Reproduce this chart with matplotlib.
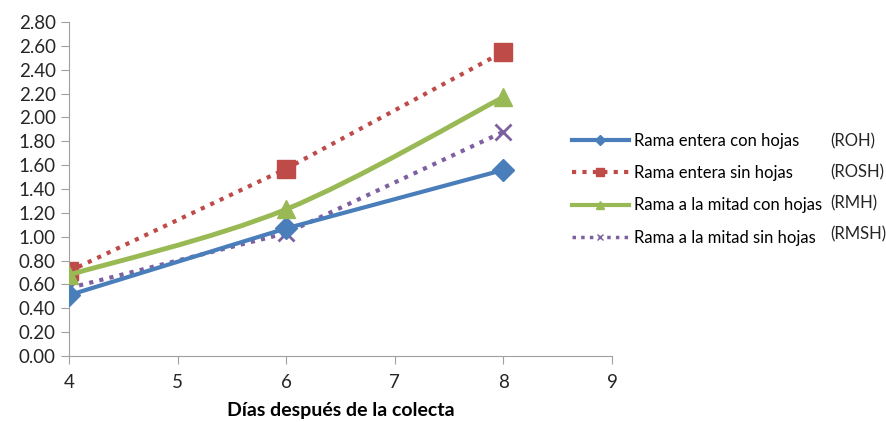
import matplotlib.pyplot as plt
from matplotlib.lines import Line2D
from matplotlib.path import Path
from matplotlib.patches import PathPatch

plt.rcParams['font.family'] = ['Lato', 'DejaVu Sans']

dias = [4, 6, 8]
roh = [0.51, 1.07, 1.56]
rosh = [0.71, 1.57, 2.55]
rmh = [0.68, 1.23, 2.17]
rmsh = [0.57, 1.03, 1.88]

nombres = ['Rama entera con hojas', 'Rama entera sin hojas',
           'Rama a la mitad con hojas', 'Rama a la mitad sin hojas']
siglas = ['(ROH)', '(ROSH)', '(RMH)', '(RMSH)']

azul = '#4A7EBB'
rojo = '#BE4B48'
verde = '#98B954'
morado = '#7D60A0'


def curva_suave(x, y):
    # Catmull-Rom style bezier through the points (like Excel's smoothed line)
    verts = [(x[0], y[0])]
    codes = [Path.MOVETO]
    n = len(x)
    for i in range(n - 1):
        x0, y0 = (x[i - 1], y[i - 1]) if i > 0 else (x[i], y[i])
        x3, y3 = (x[i + 2], y[i + 2]) if i + 2 < n else (x[i + 1], y[i + 1])
        c1 = (x[i] + (x[i + 1] - x0) / 6, y[i] + (y[i + 1] - y0) / 6)
        c2 = (x[i + 1] - (x3 - x[i]) / 6, y[i + 1] - (y3 - y[i]) / 6)
        verts += [c1, c2, (x[i + 1], y[i + 1])]
        codes += [Path.CURVE4] * 3
    return Path(verts, codes)


fig = plt.figure(figsize=(8.87, 4.22), dpi=100)
ax = fig.add_axes([69 / 887, 1 - 356 / 422, (612 - 69) / 887, (356 - 22) / 422])

ax.plot(dias, roh, color=azul, lw=3, marker='D', ms=11, zorder=3)
ax.plot(dias, rosh, color=rojo, lw=3, ls=(0, (1, 1.5)), marker='s', ms=13,
        mec=rojo, zorder=2)
ax.add_patch(PathPatch(curva_suave(dias, rmh), fill=False, ec=verde, lw=3.5,
                       capstyle='round', zorder=2))
ax.plot(dias, rmh, ls='none', marker='^', ms=13, color=verde, zorder=3)
ax.plot(dias, rmsh, color=morado, lw=3, ls=(0, (1, 1.5)), marker='x', ms=11,
        mew=2, zorder=2)

ax.set_xlim(4, 9)
ax.set_ylim(0, 2.8)
ax.set_yticks([i * 0.2 for i in range(15)])
ax.set_yticklabels(['%.2f' % (i * 0.2) for i in range(15)])
ax.set_xticks([4, 5, 6, 7, 8, 9])
ax.spines['top'].set_visible(False)
ax.spines['right'].set_visible(False)
for s in ['left', 'bottom']:
    ax.spines[s].set_color('#A0A0A0')
ax.tick_params(colors='#A0A0A0', labelcolor='#262626', labelsize=13.5, length=6)
ax.tick_params(axis='x', pad=7)
ax.set_xlabel('Días después de la colecta', fontsize=14, fontweight='bold',
              labelpad=8)

handles = [
    Line2D([], [], color=azul, lw=3, marker='D', ms=5),
    Line2D([], [], color=rojo, lw=3, ls=(0, (1, 1.5)), marker='s', ms=6),
    Line2D([], [], color=verde, lw=3, marker='^', ms=6),
    Line2D([], [], color=morado, lw=2.5, ls=(0, (1, 1.5)), marker='x', ms=5),
]
leg = fig.legend(handles, nombres, loc='upper left', bbox_to_anchor=(572 / 887, 1 - 133 / 422),
                 frameon=False, fontsize=12, handlelength=3.4, labelspacing=0.97,
                 handletextpad=0.35, borderaxespad=0, borderpad=0)

for i, s in enumerate(siglas):
    fig.text(830 / 887, 1 - (141 + i * 31) / 422, s, fontsize=12,
             ha='left', va='center', color='#262626')

fig.savefig('out.png', dpi=100)
